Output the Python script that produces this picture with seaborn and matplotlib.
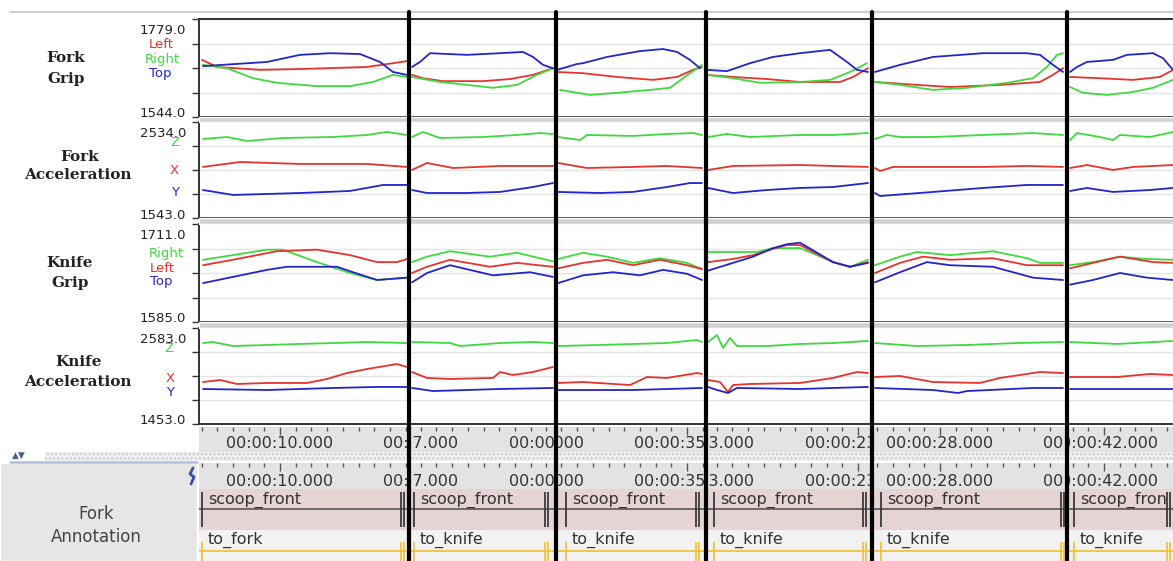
import numpy as np
import pandas as pd
import matplotlib
matplotlib.use("Agg")
import matplotlib.pyplot as plt
from matplotlib.lines import Line2D
from matplotlib.patches import Rectangle
from matplotlib.transforms import offset_copy
import seaborn as sns

# montage position of the clip boundaries (samples along the strip)
clip_edges = [0, 210, 357, 507, 673, 868, 974]

# time axis: (major tick position, label) for each clip
clip_time_labels = [
    [(81, "00:00:10.000"), (238, "00:00:20.000")],
    [(206, "00:00:17.000"), (363, "00:00:27.000")],
    [(331, "00:00:25.000"), (488, "00:00:35.000")],
    [(502, "00:00:13.000"), (659, "00:00:23.000")],
    [(741, "00:00:28.000"), (898, "00:00:38.000")],
    [(905, "00:00:42.000")],
]

fork_grip_range = (1544.0, 1779.0)
fork_acc_range = (1543.0, 2534.0)
knife_grip_range = (1585.0, 1711.0)
knife_acc_range = (1453.0, 2583.0)

fork_grip_left = [
    [(3, 1681), (18, 1664), (61, 1657), (101, 1659), (168, 1664), (194, 1673), (208, 1678)],
    [(213, 1645), (224, 1637), (244, 1630), (284, 1630), (311, 1635), (334, 1645), (354, 1661)],
    [(358, 1652), (384, 1649), (418, 1640), (454, 1633), (478, 1640), (494, 1657), (503, 1664)],
    [(508, 1645), (534, 1640), (568, 1635), (601, 1628), (641, 1628), (654, 1640), (669, 1661)],
    [(676, 1628), (718, 1621), (751, 1616), (801, 1621), (841, 1628), (854, 1645), (864, 1661)],
    [(871, 1640), (901, 1637), (934, 1633), (961, 1640), (974, 1657)],
]
fork_grip_right = [
    [(4, 1669), (28, 1661), (54, 1637), (78, 1626), (118, 1618), (151, 1618), (174, 1628), (194, 1645), (208, 1640)],
    [(213, 1640), (241, 1628), (268, 1621), (294, 1614), (318, 1621), (338, 1645), (354, 1661)],
    [(361, 1609), (391, 1597), (418, 1602), (451, 1609), (471, 1614), (484, 1637), (503, 1669)],
    [(508, 1645), (534, 1637), (561, 1626), (601, 1628), (631, 1633), (651, 1652), (668, 1673)],
    [(676, 1628), (701, 1621), (734, 1609), (768, 1614), (808, 1626), (834, 1637), (848, 1664), (858, 1693), (864, 1697)],
    [(871, 1616), (884, 1602), (908, 1597), (934, 1604), (954, 1614), (974, 1633)],
]
fork_grip_top = [
    [(4, 1666), (68, 1676), (101, 1693), (131, 1697), (161, 1695), (181, 1676), (194, 1652), (208, 1645)],
    [(213, 1664), (221, 1676), (231, 1697), (268, 1693), (301, 1697), (324, 1700), (334, 1688), (344, 1669), (354, 1661)],
    [(358, 1657), (378, 1671), (384, 1673), (408, 1688), (441, 1702), (464, 1707), (478, 1700), (491, 1681), (501, 1661)],
    [(508, 1657), (528, 1654), (551, 1673), (574, 1688), (601, 1697), (631, 1705), (648, 1676), (658, 1657), (669, 1652)],
    [(676, 1652), (701, 1669), (734, 1688), (784, 1697), (828, 1697), (841, 1693), (854, 1669), (864, 1652)],
    [(871, 1652), (878, 1664), (888, 1676), (914, 1681), (928, 1693), (954, 1697), (964, 1685), (974, 1657)],
]

fork_acc_z = [
    [(4, 2359), (28, 2379), (48, 2338), (84, 2369), (134, 2379), (168, 2400), (188, 2431), (208, 2400)],
    [(213, 2379), (224, 2431), (241, 2369), (284, 2379), (318, 2400), (341, 2420), (354, 2410)],
    [(359, 2379), (381, 2348), (388, 2400), (434, 2390), (468, 2410), (494, 2420), (503, 2400)],
    [(509, 2379), (528, 2410), (551, 2379), (601, 2400), (634, 2400), (669, 2420)],
    [(676, 2359), (688, 2400), (701, 2379), (734, 2379), (784, 2400), (834, 2420), (864, 2400)],
    [(871, 2348), (878, 2420), (901, 2379), (914, 2348), (921, 2400), (951, 2379), (974, 2431)],
]
fork_acc_x = [
    [(4, 2070), (41, 2121), (101, 2101), (168, 2101), (208, 2070)],
    [(213, 2039), (228, 2111), (254, 2059), (301, 2080), (354, 2080)],
    [(359, 2111), (388, 2059), (434, 2070), (468, 2080), (503, 2059)],
    [(509, 2039), (534, 2080), (601, 2090), (634, 2080), (669, 2070)],
    [(676, 2059), (681, 2028), (694, 2070), (734, 2070), (784, 2070), (828, 2080), (864, 2070)],
    [(871, 2059), (888, 2090), (914, 2039), (934, 2070), (974, 2090)],
]
fork_acc_y = [
    [(4, 1832), (34, 1781), (101, 1801), (151, 1822), (184, 1884), (208, 1884)],
    [(213, 1832), (228, 1801), (268, 1801), (301, 1812), (334, 1863), (354, 1904)],
    [(359, 1812), (401, 1801), (434, 1812), (468, 1863), (491, 1904), (503, 1904)],
    [(509, 1853), (534, 1801), (568, 1832), (601, 1853), (634, 1863), (669, 1904)],
    [(676, 1801), (681, 1770), (734, 1812), (784, 1853), (828, 1884), (864, 1884)],
    [(871, 1822), (888, 1853), (914, 1812), (951, 1832), (974, 1853)],
]

knife_grip_right = [
    [(4, 1665), (34, 1671), (68, 1678), (84, 1678), (118, 1662), (151, 1648), (178, 1639), (208, 1642)],
    [(213, 1662), (228, 1669), (251, 1676), (291, 1669), (318, 1674), (354, 1663)],
    [(359, 1666), (384, 1674), (408, 1669), (434, 1661), (461, 1667), (488, 1661), (503, 1653)],
    [(509, 1675), (534, 1675), (558, 1675), (574, 1680), (601, 1680), (618, 1671), (634, 1662), (651, 1656), (669, 1665)],
    [(676, 1658), (701, 1669), (718, 1675), (751, 1671), (794, 1676), (828, 1667), (841, 1661), (864, 1661)],
    [(871, 1658), (894, 1662), (921, 1669), (948, 1666), (974, 1665)],
]
knife_grip_left = [
    [(4, 1658), (34, 1665), (78, 1676), (118, 1678), (151, 1671), (178, 1662), (198, 1662), (208, 1666)],
    [(213, 1648), (228, 1656), (251, 1665), (291, 1656), (318, 1661), (354, 1656)],
    [(359, 1654), (384, 1661), (408, 1665), (434, 1658), (461, 1665), (488, 1658), (503, 1653)],
    [(509, 1662), (534, 1666), (554, 1671), (574, 1679), (588, 1684), (601, 1684), (634, 1662), (651, 1656), (669, 1662)],
    [(676, 1648), (701, 1661), (724, 1669), (751, 1665), (794, 1667), (828, 1658), (864, 1658)],
    [(871, 1654), (894, 1661), (921, 1669), (954, 1662), (974, 1661)],
]
knife_grip_top = [
    [(4, 1635), (34, 1643), (68, 1652), (88, 1656), (138, 1656), (154, 1649), (178, 1639), (208, 1642)],
    [(213, 1636), (228, 1648), (251, 1658), (294, 1645), (331, 1649), (354, 1643)],
    [(359, 1635), (384, 1645), (414, 1649), (441, 1645), (464, 1652), (488, 1647), (503, 1639)],
    [(509, 1651), (534, 1661), (554, 1669), (574, 1680), (588, 1685), (601, 1687), (634, 1662), (651, 1656), (669, 1661)],
    [(676, 1636), (701, 1649), (728, 1662), (751, 1658), (794, 1656), (834, 1642), (864, 1639)],
    [(871, 1633), (894, 1639), (921, 1648), (948, 1642), (974, 1639)],
]

knife_acc_z = [
    [(4, 2406), (14, 2418), (34, 2371), (68, 2383), (101, 2395), (134, 2406), (168, 2418), (208, 2406)],
    [(213, 2418), (251, 2406), (261, 2371), (301, 2406), (334, 2418), (354, 2406)],
    [(359, 2371), (401, 2383), (434, 2395), (468, 2406), (498, 2442), (503, 2418)],
    [(509, 2418), (518, 2501), (524, 2348), (531, 2465), (538, 2371), (568, 2371), (601, 2395), (634, 2406), (669, 2430)],
    [(676, 2406), (718, 2371), (768, 2383), (818, 2406), (864, 2418)],
    [(871, 2418), (918, 2395), (974, 2430)],
]
knife_acc_x = [
    [(4, 1947), (21, 1971), (38, 1924), (68, 1936), (108, 1936), (128, 1983), (148, 2053), (168, 2100), (198, 2159), (208, 2124)],
    [(213, 2065), (228, 1995), (251, 1983), (294, 1995), (301, 2065), (314, 2030), (334, 2065), (354, 2124)],
    [(359, 1936), (384, 1947), (431, 1912), (448, 2006), (468, 1995), (498, 2053), (503, 2042)],
    [(509, 1971), (521, 1947), (529, 1830), (534, 1912), (551, 1924), (601, 1936), (634, 1995), (658, 2065), (669, 2053)],
    [(676, 2006), (701, 2018), (734, 1947), (781, 1936), (801, 1995), (841, 2065), (864, 2053)],
    [(871, 2006), (918, 2006), (951, 2042), (974, 2030)],
]
knife_acc_y = [
    [(4, 1865), (68, 1853), (134, 1877), (178, 1889), (208, 1889)],
    [(213, 1877), (234, 1841), (301, 1865), (354, 1877)],
    [(359, 1853), (434, 1853), (503, 1877)],
    [(509, 1889), (518, 1853), (529, 1818), (538, 1877), (601, 1865), (634, 1877), (669, 1889)],
    [(676, 1877), (734, 1853), (759, 1818), (768, 1841), (834, 1877), (864, 1877)],
    [(871, 1865), (974, 1865)],
]

# annotation intervals
ann_starts = [3, 215, 367, 515, 682, 875]
ann_ends = [205, 349, 500, 667, 865, 971]
ann_upper = ["scoop_front"] * 6
ann_lower = ["to_fork", "to_knife", "to_knife", "to_knife", "to_knife", "to_knife"]

RED, GREEN, BLUE = "#e5332e", "#3fd93f", "#2424c8"

W, H = 1173, 561


def box(x0, y0, x1, y1):
    return [x0 / W, 1 - y1 / H, (x1 - x0) / W, (y1 - y0) / H]


def fx(x):
    return x / W


def fy(y):
    return 1 - y / H


def frame(series):
    rows = []
    for name, clips in series:
        for i, clip in enumerate(clips):
            for t, v in clip:
                rows.append((name, i, t, v))
    return pd.DataFrame(rows, columns=["channel", "clip", "t", "value"])


sns.set_style("white")
plt.rcParams["font.family"] = ["DejaVu Sans"]
plt.rcParams["hatch.linewidth"] = 1.0

fig = plt.figure(figsize=(W / 100, H / 100), dpi=100)
fig.patch.set_facecolor("white")

panels = [
    dict(top=19, bot=117, rng=fork_grip_range, head=[("Fork", 66, 58), ("Grip", 66, 79)],
         series=[("Left", fork_grip_left, RED, 161, 45), ("Right", fork_grip_right, GREEN, 162, 59),
                 ("Top", fork_grip_top, BLUE, 160, 74)]),
    dict(top=122, bot=218, rng=fork_acc_range, head=[("Fork", 80, 157), ("Acceleration", 78, 175)],
         series=[("Z", fork_acc_z, GREEN, 175, 143), ("X", fork_acc_x, RED, 174, 171),
                 ("Y", fork_acc_y, BLUE, 175, 192)]),
    dict(top=224, bot=322, rng=knife_grip_range, head=[("Knife", 70, 263), ("Grip", 70, 283)],
         series=[("Right", knife_grip_right, GREEN, 166, 253), ("Left", knife_grip_left, RED, 162, 268),
                 ("Top", knife_grip_top, BLUE, 161, 282)]),
    dict(top=328, bot=424, rng=knife_acc_range, head=[("Knife", 79, 362), ("Acceleration", 78, 382)],
         series=[("Z", knife_acc_z, GREEN, 169, 348), ("X", knife_acc_x, RED, 170, 379),
                 ("Y", knife_acc_y, BLUE, 170, 393)]),
]

# gray gaps between stacked panels
for y0, y1 in [(117, 122), (218, 224), (322, 328)]:
    fig.patches.append(Rectangle((fx(199), fy(y1)), 1 - fx(199), (y1 - y0) / H,
                                 transform=fig.transFigure, facecolor="#d2d2d2", zorder=0))

for p in panels:
    ax = fig.add_axes(box(199, p["top"], 1173, p["bot"]))
    df = frame([(s[0], s[1]) for s in p["series"]])
    pal = {s[0]: s[2] for s in p["series"]}
    sns.lineplot(data=df, x="t", y="value", hue="channel", units="clip", estimator=None,
                 palette=pal, legend=False, linewidth=1.3, ax=ax)
    lo, hi = p["rng"]
    ax.set(xlim=(0, 974), ylim=(lo, hi), xlabel="", ylabel="")
    ax.set_xticks([])
    ax.set_yticks(np.linspace(lo, hi, 5))
    ax.set_yticklabels([])
    ax.tick_params(axis="y", left=True, length=5, width=1, color="#333333", direction="out")
    ax.grid(axis="y", color="#e4e4e4", lw=1)
    for side in ["left", "top", "bottom"]:
        ax.spines[side].set_color("#333333")
        ax.spines[side].set_linewidth(1.4)
    ax.spines["right"].set_visible(False)
    ax.text(0, 1, f"{hi:.1f}", transform=offset_copy(ax.transAxes, fig=fig, x=-13, y=-5, units="dots"),
            ha="right", va="top", fontsize=9.5, color="#222222")
    ax.text(0, 0, f"{lo:.1f}", transform=offset_copy(ax.transAxes, fig=fig, x=-13, y=3, units="dots"),
            ha="right", va="center", fontsize=9.5, color="#222222")
    for word, hx, hy in p["head"]:
        fig.text(fx(hx), fy(hy), word, ha="center", va="center", family="DejaVu Serif",
                 weight="bold", fontsize=11, color="#222222")
    for name, _, col, cx, cy in p["series"]:
        fig.text(fx(cx), fy(cy), name, ha="center", va="center", fontsize=9.5, color=col)

# top gray rule
fig.add_artist(Line2D([fx(10), 1], [fy(12), fy(12)], transform=fig.transFigure, color="#c4c4c4", lw=1.2))


def time_row(y0, y1, label_y):
    ax = fig.add_axes(box(199, y0, 1173, y1))
    ax.set_facecolor("#e3e3e3")
    ax.set_xlim(0, 974)
    ax.set_ylim(1, 0)
    ax.set_xticks([])
    ax.set_yticks([])
    for sp in ax.spines.values():
        sp.set_visible(False)
    hgt = y1 - y0
    for i, (c0, c1) in enumerate(zip(clip_edges[:-1], clip_edges[1:])):
        clip = Rectangle((c0, 0), c1 - c0, 1, transform=ax.transData)
        base = clip_time_labels[i][0][0]
        ks = np.arange(-20, 30)
        ticks = base + ks * 15.7
        inside = (ticks >= c0 + 2) & (ticks <= c1 - 2)
        major = inside & (ks % 10 == 0)
        minor = inside & (ks % 10 != 0)
        ax.vlines(ticks[minor], 0, 4 / hgt, color="#555555", lw=1)
        ax.vlines(ticks[major], 0, 8 / hgt, color="#555555", lw=1)
        for pos, lab in clip_time_labels[i]:
            t = ax.text(pos, (label_y - y0) / hgt, lab, ha="center", va="center",
                        fontsize=11.5, color="#333333", clip_on=True)
            t.set_clip_path(clip)
    return ax


time_row(427, 452, 443)

# dotted splitter strip with arrows
fig.patches.append(Rectangle((fx(45), fy(461)), 1 - fx(45), 9 / H, transform=fig.transFigure,
                             facecolor="#f0f0f0", edgecolor="#c9c9c9", hatch="....", lw=0))
fig.text(fx(12), fy(455), "\u25b2\u25bc", fontsize=6.5, color="#4f6185", va="center", ha="left")
fig.add_artist(Line2D([fx(10), fx(197)], [fy(462), fy(462)], transform=fig.transFigure,
                      color="#b3bfd8", lw=1.8))

# left label box of the annotation track
fig.patches.append(Rectangle((0, 0), fx(197), fy(463), transform=fig.transFigure,
                             facecolor="#e6e6e6", zorder=0))
fig.text(fx(96), fy(514), "Fork", ha="center", va="center", fontsize=12, color="#444444")
fig.text(fx(96), fy(537), "Annotation", ha="center", va="center", fontsize=12, color="#444444")
fig.add_artist(Line2D([fx(193), fx(190), fx(194), fx(191)], [fy(468), fy(474), fy(477), fy(484)],
                      transform=fig.transFigure, color="#3d4f9a", lw=2))

time_row(463, 489, 481)

# annotation track
ax_ann = fig.add_axes(box(199, 489, 1173, 561))
ax_ann.set_xlim(0, 974)
ax_ann.set_ylim(72, 0)
ax_ann.set_xticks([])
ax_ann.set_yticks([])
for sp in ax_ann.spines.values():
    sp.set_visible(False)
ax_ann.add_patch(Rectangle((0, 0), 974, 41, facecolor="#e6d3d3", lw=0))
ax_ann.add_patch(Rectangle((0, 41), 974, 31, facecolor="#f2f2f2", lw=0))
ax_ann.axhline(20, color="#555555", lw=1.2)
ax_ann.axhline(62, color="#f3c33c", lw=1.3)
for s, e, up, low in zip(ann_starts, ann_ends, ann_upper, ann_lower):
    ax_ann.vlines([s, e - 3, e], 3, 38, color="#3a3a3a", lw=1.3)
    ax_ann.vlines([s, e - 3, e], 53, 72, color="#f3c33c", lw=1.3)
    clip = Rectangle((s, 0), e - 3 - s, 72, transform=ax_ann.transData)
    t1 = ax_ann.text(s + 6, 11, up, va="center", ha="left", fontsize=11.5, color="#333333",
                     clip_on=True)
    t1.set_clip_path(clip)
    t2 = ax_ann.text(s + 6, 51, low, va="center", ha="left", fontsize=11.5, color="#333333",
                     clip_on=True)
    t2.set_clip_path(clip)

# black separators between the stitched clips
for edge in clip_edges[1:-1]:
    xs = fx(199 + edge)
    fig.add_artist(Line2D([xs, xs], [fy(12), 0], transform=fig.transFigure, color="black",
                          lw=3, zorder=20))

fig.savefig("out.png", dpi=100, facecolor="white")
